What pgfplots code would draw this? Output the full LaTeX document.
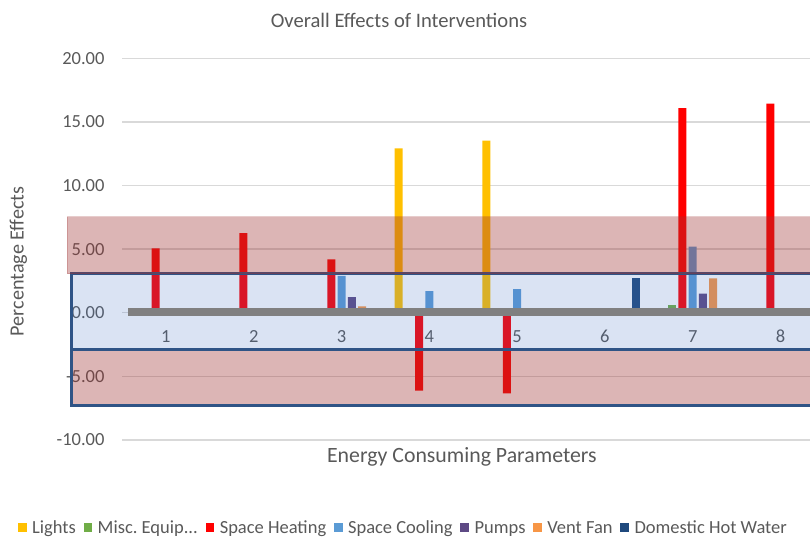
\documentclass[border=0pt]{standalone}
\usepackage{pgfplots}
\pgfplotsset{compat=1.18}
\usepackage{fontspec}
\setmainfont{Carlito}
\frenchspacing
\definecolor{lights}{HTML}{FFC000}
\definecolor{misc}{HTML}{70AD47}
\definecolor{heat}{HTML}{FF0000}
\definecolor{cool}{HTML}{5B9BD5}
\definecolor{pumps}{HTML}{5E4A85}
\definecolor{vent}{HTML}{F79646}
\definecolor{dhw}{HTML}{1F497D}
\definecolor{labelgray}{HTML}{595959}
\definecolor{gridgray}{HTML}{D9D9D9}
\definecolor{zerogray}{HTML}{808080}
\definecolor{bandred}{RGB}{158,50,50}
\definecolor{bandblue}{HTML}{4472C4}
\definecolor{bordblue}{RGB}{47,84,134}
\pgfplotsset{
  sq/.style={draw=none, fill=#1,
    legend image code/.code={\fill[#1] (0bp,-4.1bp) rectangle (8.6bp,4.5bp); \path (12.2bp,0bp);}},
}
\begin{document}
\begin{tikzpicture}[font=\fontsize{18.5bp}{22bp}\selectfont]
\begin{axis}[
  set layers,
  at={(122bp,97bp)}, anchor=south west,
  scale only axis, width=688bp, height=381.7bp,
  xmin=0.5, xmax=8.336, ymin=-10, ymax=20,
  clip=false,
  ybar=2.25bp, bar width=8bp,
  axis line style={draw=none},
  major tick length=0pt,
  ytick={-10,-5,...,20},
  ymajorgrids,
  grid style={draw=gridgray, line width=1.4bp},
  xtick={1,...,8},
  xticklabels={1,2,3,4,5,6,7,8},
  every tick label/.append style={text=labelgray},
  yticklabel style={/pgf/number format/fixed, /pgf/number format/fixed zerofill,
    /pgf/number format/precision=2, /pgf/number format/assume math mode=true,
    anchor=east, xshift=-14bp},
  xticklabel style={anchor=center, yshift=103.3bp},
  title={Overall Effects of Interventions},
  title style={at={(axis description cs:0.4026,1.0663)}, anchor=base,
    font=\fontsize{20.6bp}{24bp}\selectfont, text=labelgray},
  xlabel={Energy Consuming Parameters},
  xlabel style={at={(axis description cs:0.494,-0.058)}, anchor=base,
    font=\fontsize{21.8bp}{24bp}\selectfont, text=labelgray},
  ylabel={Percentage Effects},
  ylabel style={at={(axis description cs:-0.1507,0.4677)}, anchor=center,
    font=\fontsize{20.2bp}{24bp}\selectfont, text=labelgray},
  legend columns=-1,
  legend style={at={(axis description cs:0.409,-0.2305)}, anchor=center,
    draw=none, fill=none, inner sep=0pt,
    font=\fontsize{18.5bp}{22bp}\selectfont, text=labelgray,
    /tikz/every even column/.append style={column sep=5.7bp}},
]
\addplot[sq=lights] coordinates {(4,12.93) (5,13.53)};
\addlegendentry{Lights}
\addplot[sq=misc] coordinates {(7,0.6)};
\addlegendentry{Misc.\ Equip.{}.{}.}
\addplot[sq=heat] coordinates {(1,5.07) (2,6.25) (3,4.2) (4,-6.12) (5,-6.33) (7,16.08) (8,16.44)};
\addlegendentry{Space Heating}
\addplot[sq=cool] coordinates {(3,2.9) (4,1.71) (5,1.85) (7,5.2)};
\addlegendentry{Space Cooling}
\addplot[sq=pumps] coordinates {(3,1.22) (7,1.5)};
\addlegendentry{Pumps}
\addplot[sq=vent] coordinates {(3,0.5) (7,2.7)};
\addlegendentry{Vent Fan}
\addplot[sq=dhw] coordinates {(6,2.7)};
\addlegendentry{Domestic Hot Water}
% annotation bands
\fill[bandblue, fill opacity=0.2] (axis cs:-0.075,-2.92) rectangle (axis cs:8.336,3.05);
\fill[bandred, fill opacity=0.36] (axis cs:-0.075,-7.25) rectangle (axis cs:8.336,-2.92);
\draw[bordblue, line width=3bp] (axis cs:8.336,3.05) -- (axis cs:-0.075,3.05) -- (axis cs:-0.075,-7.25) -- (axis cs:8.336,-7.25);
\draw[bordblue, line width=3bp] (axis cs:-0.075,-2.92) -- (axis cs:8.336,-2.92);
\fill[bandred, fill opacity=0.36, draw=bandred, draw opacity=0.25, line width=1bp] (axis cs:-0.126,3.05) rectangle (axis cs:8.336,7.55);
\fill[zerogray] (axis cs:0.568,-0.25) rectangle (axis cs:8.336,0.40);
\end{axis}
\pgfresetboundingbox
\useasboundingbox (0,0) rectangle (810bp,537bp);
\end{tikzpicture}
\end{document}
